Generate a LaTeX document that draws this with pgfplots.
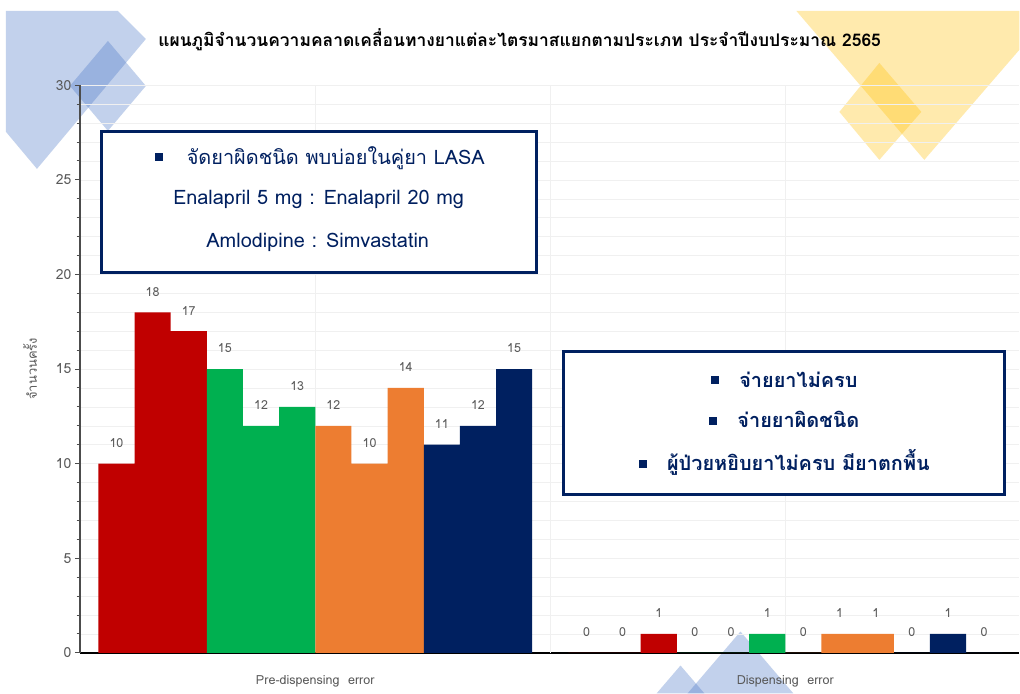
\documentclass[border=0pt]{standalone}
\usepackage{fontspec}
\usepackage{pgfplots}
\pgfplotsset{compat=1.18}
\setmainfont{Loma}[Script=Thai]
\newfontfamily\thaifont[Script=Thai]{Loma}
\definecolor{cred}{HTML}{C00000}
\definecolor{cgreen}{HTML}{00B050}
\definecolor{corange}{HTML}{ED7D31}
\definecolor{cnavy}{HTML}{002060}
\definecolor{obl}{HTML}{4472C4}
\definecolor{oyl}{HTML}{FFC000}
\definecolor{tgray}{HTML}{595959}
\pgfplotsset{mybar/.style={ybar, bar width=1, bar shift=0pt, draw=none, fill=#1,
  nodes near coords,
  every node near coord/.append style={font=\thaifont\fontsize{12.5}{12.5}\selectfont, text=tgray, anchor=center, yshift=20.5bp}}}
\begin{document}
\begin{tikzpicture}
\begin{scope}[x=1bp,y=1bp]
\path[use as bounding box, fill=white] (0,0) rectangle (1020,694);
\fill[obl, fill opacity=0.32] (6,683)--(118,683)--(146,655)--(37,525)--(6,562)--cycle;
\fill[obl, fill opacity=0.32] (108,653)--(146,608)--(108,563)--(70,608)--cycle;
\fill[oyl, fill opacity=0.32] (797,683)--(1020,683)--(1020,644)--(925,534)--cycle;
\fill[oyl, fill opacity=0.32] (880,631)--(922,582)--(880,534)--(840,582)--cycle;
\fill[obl, fill opacity=0.32] (741,62)--(794,0)--(688,0)--cycle;
\fill[obl, fill opacity=0.32] (681,28)--(705,0)--(657,0)--cycle;
\end{scope}
\begin{axis}[
  at={(80bp,40.7bp)}, anchor=south west,
  scale only axis, width=940bp, height=568bp,
  xmin=-1.009, xmax=24.97, ymin=0, ymax=30,
  axis lines*=left,
  x axis line style={black, line width=1.5bp},
  y axis line style={black!70, line width=1.2bp},
  ytick={0,5,...,30}, minor y tick num=4,
  tick align=outside, major tick length=5bp, minor tick length=3.3bp,
  ytick style={black!70, line width=0.9bp},
  ymajorgrids, yminorgrids,
  major grid style={color=black!6}, minor grid style={color=black!6},
  xtick={5.5,18.5}, xticklabels={Pre-dispensing\ \ error, Dispensing\ \ error},
  xtick style={draw=none}, xmajorgrids,
  extra x ticks={12}, extra x tick labels={},
  /pgf/number format/assume math mode=true,
  yticklabel style={font=\thaifont\fontsize{14}{14}\selectfont, text=tgray},
  xticklabel style={font=\thaifont\fontsize{12.6}{12.6}\selectfont, text=tgray, anchor=center, yshift=-24bp},
  clip=false,
]
\addplot[mybar=cred] coordinates {(0,10) (1,18) (2,17) (13,0) (14,0) (15,1)};
\addplot[mybar=cgreen] coordinates {(3,15) (4,12) (5,13) (16,0) (17,0) (18,1)};
\addplot[mybar=corange] coordinates {(6,12) (7,10) (8,14) (19,0) (20,1) (21,1)};
\addplot[mybar=cnavy] coordinates {(9,11) (10,12) (11,15) (22,0) (23,1) (24,0)};
\end{axis}
\begin{scope}[x=1bp,y=1bp]
\node[font=\thaifont\bfseries\fontsize{17.5}{17.5}\selectfont] at (520,654) {แผนภูมิจำนวนความคลาดเคลื่อนทางยาแต่ละไตรมาสแยกตามประเภท ประจำปีงบประมาณ 2565};
\node[rotate=90, font=\thaifont\fontsize{13}{13}\selectfont, text=tgray] at (30,325) {จำนวนครั้ง};
\draw[cnavy, line width=3bp, fill=white] (102,421) rectangle (537,562);
\node[text=cnavy, font=\thaifont\fontsize{20}{20}\selectfont] at (320,536) {\raisebox{3bp}{\rule{8bp}{8bp}}\hspace{24bp}จัดยาผิดชนิด พบบ่อยในคู่ยา LASA};
\node[text=cnavy, font=\thaifont\fontsize{20}{20}\selectfont] at (319,494) {Enalapril 5 mg : Enalapril 20 mg};
\node[text=cnavy, font=\thaifont\fontsize{20}{20}\selectfont] at (318,451) {Amlodipine : Simvastatin};
\draw[cnavy, line width=3bp, fill=white] (564,199) rectangle (1005,342);
\node[text=cnavy, font=\thaifont\bfseries\fontsize{20}{20}\selectfont] at (785,314) {\raisebox{3bp}{\rule{8bp}{8bp}}\hspace{20bp}จ่ายยาไม่ครบ};
\node[text=cnavy, font=\thaifont\bfseries\fontsize{20}{20}\selectfont] at (785,274) {\raisebox{3bp}{\rule{8bp}{8bp}}\hspace{20bp}จ่ายยาผิดชนิด};
\node[text=cnavy, font=\thaifont\bfseries\fontsize{20}{20}\selectfont] at (785,231) {\raisebox{3bp}{\rule{8bp}{8bp}}\hspace{20bp}ผู้ป่วยหยิบยาไม่ครบ มียาตกพื้น};
\end{scope}
\end{tikzpicture}
\end{document}
